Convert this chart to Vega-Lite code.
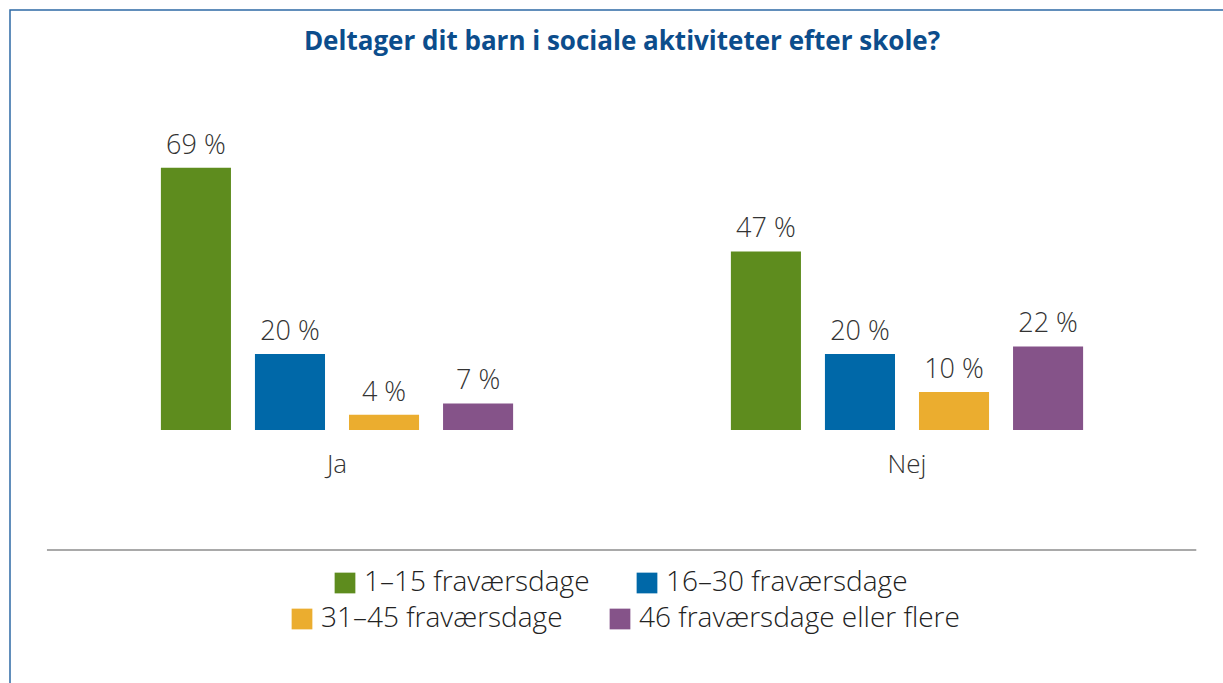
{
  "$schema": "https://vega.github.io/schema/vega-lite/v6.json",
  "width": 1224,
  "height": 690,
  "autosize": {"type": "none"},
  "padding": {"left": 10, "top": 10, "right": 0, "bottom": 0},
  "background": "white",
  "title": {
    "text": "Deltager dit barn i sociale aktiviteter efter skole?",
    "font": "Open Sans",
    "fontSize": 26,
    "fontWeight": "bold",
    "color": "#0c4d8c",
    "anchor": "middle",
    "baseline": "alphabetic",
    "offset": -66
  },
  "config": {
    "view": {"stroke": "#2e6aa5", "strokeWidth": 1.5},
    "legend": {
      "labelFont": "Open Sans",
      "labelFontSize": 28,
      "labelFontWeight": 300,
      "labelColor": "#222222",
      "labelLimit": 0,
      "symbolType": "square",
      "symbolSize": 430,
      "symbolStrokeWidth": 0,
      "symbolOpacity": 1,
      "labelOffset": 5,
      "columnPadding": 43,
      "direction": "horizontal",
      "orient": "none",
      "title": null
    }
  },
  "data": {
    "values": [
      {"svar": "Ja", "gruppe": "1–15 fraværsdage", "pct": 69},
      {"svar": "Ja", "gruppe": "16–30 fraværsdage", "pct": 20},
      {"svar": "Ja", "gruppe": "31–45 fraværsdage", "pct": 4},
      {"svar": "Ja", "gruppe": "46 fraværsdage eller flere", "pct": 7},
      {"svar": "Nej", "gruppe": "1–15 fraværsdage", "pct": 47},
      {"svar": "Nej", "gruppe": "16–30 fraværsdage", "pct": 20},
      {"svar": "Nej", "gruppe": "31–45 fraværsdage", "pct": 10},
      {"svar": "Nej", "gruppe": "46 fraværsdage eller flere", "pct": 22}
    ]
  },
  "encoding": {
    "x": {
      "field": "svar",
      "type": "nominal",
      "axis": null,
      "scale": {"domain": ["Ja", "Nej"], "paddingInner": 0.34, "paddingOuter": 0.2437}
    }
  },
  "layer": [
    {
      "transform": [{"filter": {"field": "gruppe", "oneOf": ["1–15 fraværsdage", "16–30 fraværsdage"]}}],
      "mark": {"type": "bar"},
      "encoding": {
        "xOffset": {"field": "gruppe", "type": "nominal", "scale": {"domain": ["1–15 fraværsdage", "16–30 fraværsdage", "31–45 fraværsdage", "46 fraværsdage eller flere"], "paddingInner": 0.255, "paddingOuter": 0.1275}},
        "y": {"field": "pct", "type": "quantitative", "axis": null, "scale": {"domain": [-71.05, 110.53], "nice": false, "zero": false}},
        "color": {
          "field": "gruppe", "type": "nominal",
          "scale": {"domain": ["1–15 fraværsdage", "16–30 fraværsdage"], "range": ["#5e8c1e", "#0068a8"]},
          "legend": {"legendX": 321, "legendY": 559}
        }
      }
    },
    {
      "transform": [{"filter": {"field": "gruppe", "oneOf": ["31–45 fraværsdage", "46 fraværsdage eller flere"]}}],
      "mark": {"type": "bar"},
      "encoding": {
        "xOffset": {"field": "gruppe", "type": "nominal"},
        "y": {"field": "pct", "type": "quantitative"},
        "fill": {
          "field": "gruppe", "type": "nominal",
          "scale": {"domain": ["31–45 fraværsdage", "46 fraværsdage eller flere"], "range": ["#ebad2f", "#855389"]},
          "legend": {"legendX": 278, "legendY": 595}
        }
      }
    },
    {
      "transform": [{"calculate": "datum.pct + ' %'", "as": "label"}],
      "mark": {"type": "text", "font": "Open Sans", "fontSize": 27, "fontWeight": 300, "color": "#333333", "baseline": "alphabetic", "dy": -14},
      "encoding": {
        "xOffset": {"field": "gruppe", "type": "nominal"},
        "y": {"field": "pct", "type": "quantitative"},
        "text": {"field": "label"}
      }
    },
    {
      "transform": [{"aggregate": [{"op": "count", "as": "n"}], "groupby": ["svar"]}],
      "mark": {"type": "text", "font": "Open Sans", "fontSize": 26, "fontWeight": 300, "color": "#333333", "baseline": "alphabetic"},
      "encoding": {
        "y": {"datum": -11.3},
        "text": {"field": "svar"}
      }
    },
    {
      "data": {"values": [{"del": "skillelinje"}]},
      "mark": {"type": "rule", "stroke": "#8c8c8c", "strokeWidth": 1.5},
      "encoding": {
        "x": {"datum": "Ja", "bandPosition": -0.271},
        "x2": {"datum": "Nej", "bandPosition": 1.269},
        "y": {"datum": -31.58}
      }
    }
  ]
}
